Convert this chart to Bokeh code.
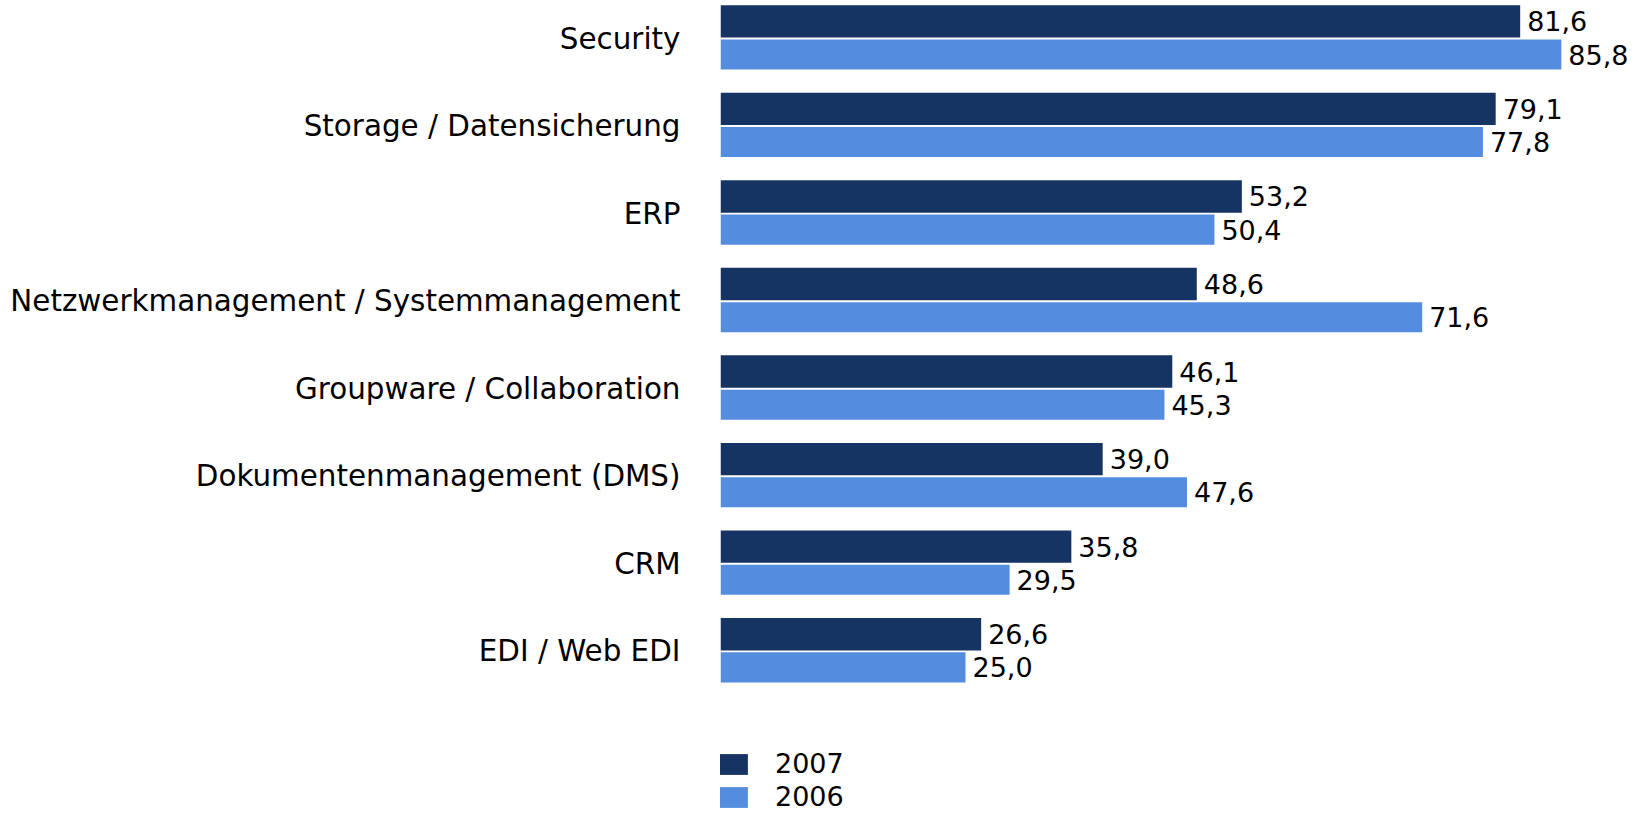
from bokeh.plotting import figure
from bokeh.models import ColumnDataSource, Range1d, FixedTicker, Legend, LegendItem
from bokeh.transform import dodge
from bokeh.embed import file_html
from bokeh.resources import INLINE

categories = ["Security", "Storage / Datensicherung", "ERP",
              "Netzwerkmanagement / Systemmanagement", "Groupware / Collaboration",
              "Dokumentenmanagement (DMS)", "CRM", "EDI / Web EDI"]
v2007 = [81.6, 79.1, 53.2, 48.6, 46.1, 39.0, 35.8, 26.6]
v2006 = [85.8, 77.8, 50.4, 71.6, 45.3, 47.6, 29.5, 25.0]
series_names = ["2007", "2006"]

DARK = "#163463"
LIGHT = "#548DE0"
FONT = "DejaVu Sans"

pos = list(range(len(categories)))
src = ColumnDataSource(dict(
    y=pos, cat=categories, v2007=v2007, v2006=v2006,
    l2007=[f"{v:.1f}".replace(".", ",") for v in v2007],
    l2006=[f"{v:.1f}".replace(".", ",") for v in v2006],
))

W, H = 1639, 814
FRAME_LEFT = 720
PX_PER_UNIT = 9.8
PITCH = 87.55
TOP_CENTER = 38

p = figure(width=W, height=H, output_backend="svg", toolbar_location=None,
           x_axis_location=None,
           x_range=Range1d(0, (W - FRAME_LEFT) / PX_PER_UNIT),
           y_range=Range1d(start=(H - TOP_CENTER) / PITCH, end=-TOP_CENTER / PITCH),
           min_border_left=FRAME_LEFT, min_border_right=0,
           min_border_top=0, min_border_bottom=0)
p.outline_line_color = None
p.xgrid.visible = False
p.ygrid.visible = False

h1, o1 = 0.37, -0.196
h2, o2 = 0.343, 0.183
r1 = p.hbar(y=dodge("y", o1), left=0, right="v2007", height=h1, source=src,
            fill_color=DARK, line_color=None)
r2 = p.hbar(y=dodge("y", o2), left=0, right="v2006", height=h2, source=src,
            fill_color=LIGHT, line_color=None)

for col, lab, o in (("v2007", "l2007", o1), ("v2006", "l2006", o2)):
    p.text(x=col, y=dodge("y", o), text=lab, source=src, x_offset=7,
           text_baseline="middle", text_align="left",
           text_font={"value": FONT}, text_font_size="27px", text_color="#000000")

ax = p.yaxis[0]
ax.ticker = FixedTicker(ticks=pos)
ax.major_label_overrides = {i: c for i, c in zip(pos, categories)}
ax.major_label_text_font = FONT
ax.major_label_text_font_size = "29.4px"
ax.major_label_text_color = "#000000"
ax.axis_line_color = None
ax.major_tick_line_color = None
ax.minor_tick_line_color = None
ax.major_tick_out = 0
ax.major_label_standoff = 40

legend = Legend(items=[LegendItem(label=series_names[0], renderers=[r1]),
                       LegendItem(label=series_names[1], renderers=[r2])],
                location=(-5, 2), orientation="vertical",
                glyph_width=36, glyph_height=26, label_standoff=24,
                label_height=21, spacing=2, padding=0, margin=0,
                label_text_font=FONT, label_text_font_size="27px",
                label_text_color="#000000",
                border_line_color=None, background_fill_alpha=0)
p.add_layout(legend, "center")

open("out.html", "w").write(file_html(p, INLINE))
